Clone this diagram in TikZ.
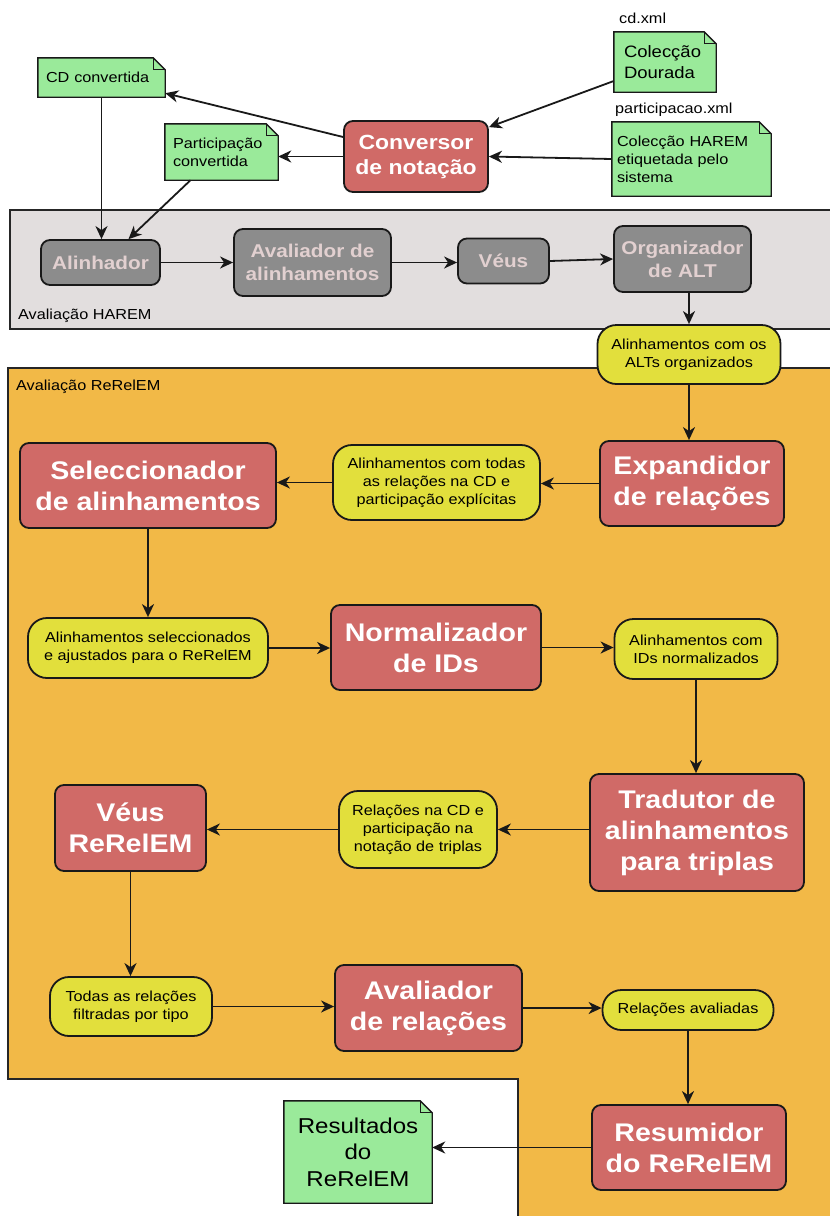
\documentclass[tikz,border=0pt]{standalone}
\usepackage{fontspec}
\setmainfont[FakeStretch=1.12]{Liberation Sans}
\usetikzlibrary{arrows.meta,backgrounds}
\pgfdeclarelayer{docs}
\pgfsetlayers{background,docs,main}
\definecolor{redc}{HTML}{D06A67}
\definecolor{yel}{HTML}{E2DF3C}
\definecolor{greenc}{HTML}{9AEA9A}
\definecolor{orangec}{HTML}{F2B947}
\definecolor{grayreg}{HTML}{E2DEDE}
\definecolor{grayn}{HTML}{8C8C8C}
\definecolor{graytext}{HTML}{E2D0D0}
\newcommand\fsz[2]{\fontsize{#1}{#2}\selectfont}
\newcommand\docshape[1]{%
  \draw[docline] (#1.south west) -- (#1.north west) -- ([xshift=-12pt]#1.north east) -- ([yshift=-12pt]#1.north east) -- (#1.south east) -- cycle;
  \draw[docline,fill=none,line width=0.8pt] ([xshift=-12pt]#1.north east) -- ([xshift=-12pt,yshift=-12pt]#1.north east) -- ([yshift=-12pt]#1.north east);}
\begin{document}
\begin{tikzpicture}[x=1pt,y=-1pt,
  redbox/.style={draw=black!90, line width=1.8pt, fill=redc, rounded corners=9pt, text=white, font=\bfseries\fsz{25.5}{31}, align=center, inner sep=0pt},
  graybox/.style={draw=black!90, line width=1.8pt, fill=grayn, rounded corners=9pt, text=graytext, font=\bfseries\fsz{18.5}{23}, align=center, inner sep=0pt},
  yelbox/.style={draw=black!90, line width=1.8pt, fill=yel, rounded corners=19pt, font=\fsz{14.5}{18}, align=center, inner sep=0pt},
  docnode/.style={inner ysep=0pt, font=\fsz{14.5}{18}, align=left},
  docline/.style={draw=black!90, fill=greenc, line width=1.4pt},
  lbl/.style={anchor=west, inner sep=0pt, font=\fsz{14.5}{18}},
  arr/.style={-{Stealth[length=13pt,width=12pt,inset=4pt]}, line width=1.8pt, draw=black!90}
]
\useasboundingbox (0,0) rectangle (830,1216);
\clip (0,0) rectangle (830,1216);
\begin{pgfonlayer}{background}
  \fill[white] (0,0) rectangle (830,1216);
  \draw[fill=grayreg, line width=1.5pt, draw=black!85] (10,210) rectangle (845,329);
  \draw[fill=orangec, line width=1.5pt, draw=black!85] (8,368) -- (845,368) -- (845,1225) -- (518,1225) -- (518,1079) -- (8,1079) -- cycle;
\end{pgfonlayer}

% labels
\node[lbl] (cdxml) at (619,18) {cd.xml};
\node[lbl] (partxml) at (615,110) {participacao.xml};
\node[lbl] (lharem) at (18,316) {Avaliação HAREM};
\node[lbl] (lrerelem) at (16,387) {Avaliação ReRelEM};

% documents
\node[docnode, font=\fsz{16.5}{21.5}, inner xsep=10pt, text width=82pt, minimum height=60pt] (dour) at (665,62) {Colecção\\Dourada};
\node[docnode, inner xsep=5pt, text width=149pt, minimum height=74pt] (harem) at (691.5,159) {Colecção HAREM\\etiquetada pelo\\sistema};
\node[docnode, inner xsep=8pt, text width=111pt, minimum height=39pt] (cdc) at (101.5,77.5) {CD convertida};
\node[docnode, inner xsep=8pt, text width=97pt, minimum height=56pt] (partc) at (221.5,152) {Participação\\convertida};
\node[docnode, font=\fsz{21.5}{26.5}, align=center, inner xsep=0pt, minimum width=148pt, minimum height=102pt] (result) at (358,1152) {Resultados\\do\\ReRelEM};

% red / gray / yellow boxes
\node[redbox, font=\bfseries\fsz{20.5}{25}, minimum width=144pt, minimum height=71pt] (conv) at (416,156.5) {Conversor\\de notação};

\node[graybox, minimum width=119pt, minimum height=45pt] (alin) at (100.5,262.5) {Alinhador};
\node[graybox, minimum width=157pt, minimum height=67pt] (avalal) at (312.5,262.5) {Avaliador de\\alinhamentos};
\node[graybox, minimum width=91pt, minimum height=45pt] (veus) at (503.5,261) {Véus};
\node[graybox, minimum width=137pt, minimum height=66pt] (org) at (682.5,259) {Organizador\\de ALT};

\node[yelbox, minimum width=183pt, minimum height=59pt] (y0) at (689,354.5) {Alinhamentos com os\\ALTs organizados};

\node[redbox, minimum width=184pt, minimum height=85pt] (expand) at (692,483.5) {Expandidor\\de relações};
\node[yelbox, minimum width=207pt, minimum height=75pt] (y1) at (436.5,482.5) {Alinhamentos com todas\\as relações na CD e\\participação explícitas};
\node[redbox, minimum width=256pt, minimum height=85pt] (selec) at (148,485.5) {Seleccionador\\de alinhamentos};

\node[yelbox, minimum width=240pt, minimum height=60pt] (y2) at (148,648) {Alinhamentos seleccionados\\e ajustados para o ReRelEM};
\node[redbox, minimum width=210pt, minimum height=85pt] (norm) at (436,647.5) {Normalizador\\de IDs};
\node[yelbox, minimum width=163pt, minimum height=60pt] (y3) at (696,649) {Alinhamentos com\\IDs normalizados};

\node[redbox, minimum width=214pt, minimum height=117pt] (trad) at (697,832.5) {Tradutor de\\alinhamentos\\para triplas};
\node[yelbox, minimum width=158pt, minimum height=77pt] (y4) at (418,829.5) {Relações na CD e\\participação na\\notação de triplas};
\node[redbox, minimum width=151pt, minimum height=86pt] (veusR) at (130.5,828) {Véus\\ReRelEM};

\node[yelbox, minimum width=162pt, minimum height=59pt] (y5) at (131,1006.5) {Todas as relações\\filtradas por tipo};
\node[redbox, minimum width=187pt, minimum height=86pt] (avalrel) at (428.5,1008) {Avaliador\\de relações};
\node[yelbox, minimum width=171pt, minimum height=40pt] (y6) at (688,1010) {Relações avaliadas};

\node[redbox, minimum width=194pt, minimum height=85pt] (resum) at (689,1147.5) {Resumidor\\do ReRelEM};

\begin{pgfonlayer}{docs}
  \docshape{dour}
  \docshape{harem}
  \docshape{cdc}
  \docshape{partc}
  \docshape{result}
\end{pgfonlayer}

% connectors
\draw[arr] ([yshift=-19pt]dour.west) -- ([yshift=-7pt]conv.north east);
\draw[arr] (harem.west) -- (conv.east);
\draw[arr] ([yshift=19.5pt]conv.west) -- ([yshift=4pt]cdc.south east);
\draw[arr] (conv.west) -- (conv.west -| partc.east);
\draw[arr] (cdc.south) -- (cdc.south |- alin.north);
\draw[arr] ([xshift=-31pt]partc.south) -- ([xshift=28pt]alin.north);
\draw[arr] (alin.east) -- (alin.east -| avalal.west);
\draw[arr] (avalal.east) -- (avalal.east -| veus.west);
\draw[arr] (veus.east) -- (org.west);
\draw[arr] (y0.north |- org.south) -- (y0.north);
\draw[arr] (y0.south) -- (y0.south |- expand.north);
\draw[arr] (expand.west) -- (expand.west -| y1.east);
\draw[arr] (y1.west) -- (y1.west -| selec.east);
\draw[arr] (selec.south) -- (selec.south |- y2.north);
\draw[arr] (y2.east) -- (y2.east -| norm.west);
\draw[arr] (norm.east) -- (norm.east -| y3.west);
\draw[arr] (y3.south) -- (y3.south |- trad.north);
\draw[arr] ([yshift=3pt]trad.west) -- ([yshift=3pt]trad.west -| y4.east);
\draw[arr] (y4.west) -- (y4.west -| veusR.east);
\draw[arr] (veusR.south) -- (veusR.south |- y5.north);
\draw[arr] (y5.east) -- (y5.east -| avalrel.west);
\draw[arr] (avalrel.east) -- (avalrel.east -| y6.west);
\draw[arr] (y6.south) -- (y6.south |- resum.north);
\draw[arr] (resum.west) -- (resum.west -| result.east);
\end{tikzpicture}
\end{document}
